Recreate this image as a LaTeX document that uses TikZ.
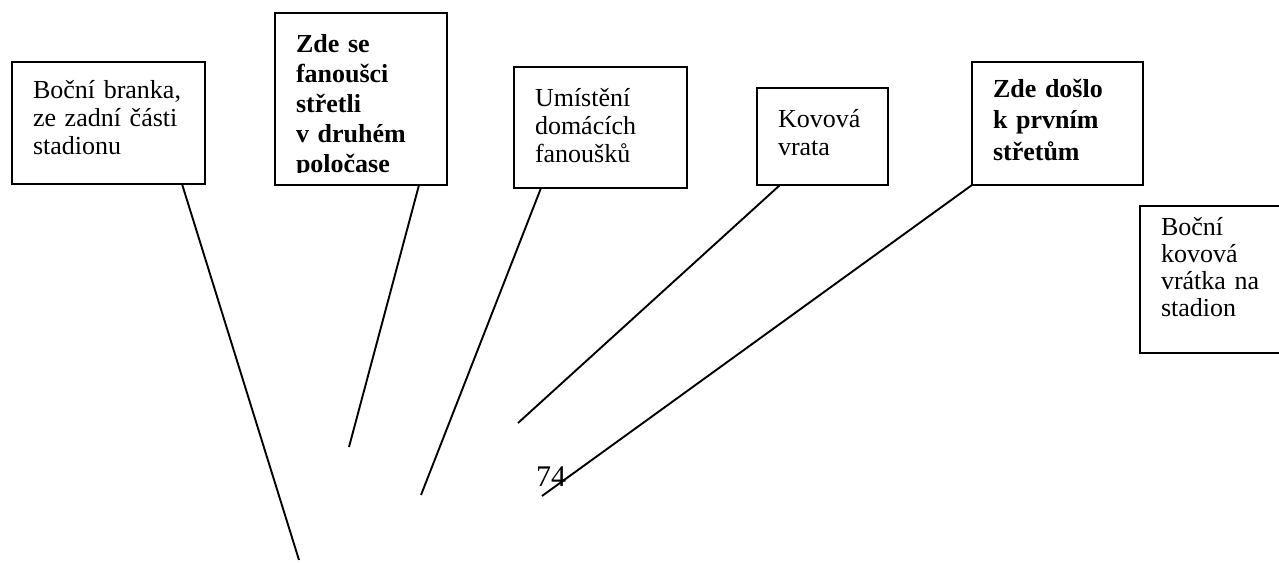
\documentclass[tikz,border=0pt]{standalone}
\usepackage{fontspec}
\setmainfont{Liberation Serif}
\usepackage{trimclip}
\usetikzlibrary{positioning}

\begin{document}
\begin{tikzpicture}[x=1pt,y=-1pt,
		tag/.style={draw,line width=2.6pt,anchor=north west,outer sep=0pt,inner xsep=21pt,inner ysep=0pt,align=left,font=\fontsize{26}{28}\selectfont},
		boldtag/.style={tag,font=\fontsize{26}{30}\selectfont\bfseries},
		lead/.style={line width=1.9pt}]
				\useasboundingbox (0,0) rectangle (1279,562);
				\clip (0,0) rectangle (1279,562);
				\node[tag,text width=151pt,text height=36pt,text depth=86pt](sidegate) at (12,62) {Boční branka,\\ze zadní části\\stadionu};
				\node[boldtag,text width=130pt,text height=39pt,text depth=133pt](secondhalf) at (275,13) {Zde se\\fanoušci\\střetli\\v druhém\\\clipbox{0pt 5pt 0pt 0pt}{poločase}};
				\node[tag,text width=131pt,text height=39pt,text depth=82pt](homefans) at (514,67) {Umístění\\domácích\\fanoušků};
				\node[tag,text width=89pt,text height=39pt,text depth=58pt](metalgate) at (757,88) {Kovová\\vrata};
				\node[boldtag,font=\fontsize{26}{31.5}\selectfont\bfseries,text width=129pt,text height=35pt,text depth=88pt](firstclash) at (972,62) {Zde došlo\\k prvním\\střetům};
				\node[tag,font=\fontsize{26}{27}\selectfont,text width=110pt,text height=29pt,text depth=118pt](sidewicket) at (1140,206) {Boční\\kovová\\vrátka na\\stadion};
				\node[anchor=base west,inner sep=0pt,font=\fontsize{30}{32}\selectfont](pagenum) at (536,486) {74};

				\coordinate (sidegatept) at (299,560);
				\coordinate (secondhalfpt) at (349,447);
				\coordinate (homefanspt) at (421,495);
				\coordinate (metalgatept) at (518,423);
				\coordinate (firstclashpt) at (542,496);

				\draw[lead] ([xshift=170pt]sidegate.south west) to (sidegatept);
				\draw[lead] ([xshift=144pt]secondhalf.south west) to (secondhalfpt);
				\draw[lead] ([xshift=27pt]homefans.south west) to (homefanspt);
				\draw[lead] ([xshift=23pt]metalgate.south west) to (metalgatept);
				\draw[lead] (firstclash.south west) to (firstclashpt);
			\end{tikzpicture}
\end{document}
